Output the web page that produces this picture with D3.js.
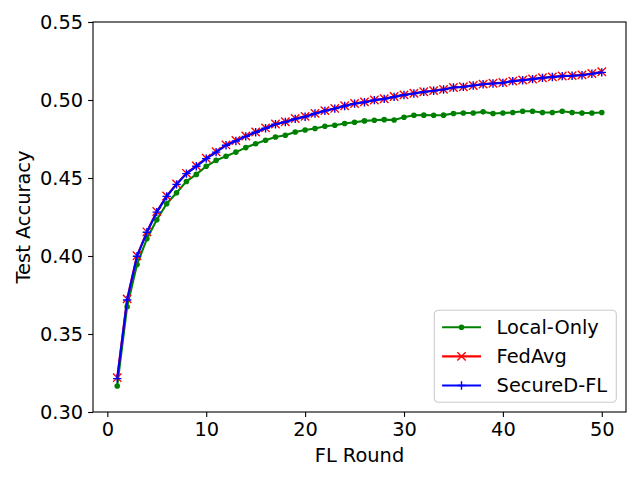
<!DOCTYPE html>
<html>
<head>
<meta charset="utf-8">
<script src="https://cdn.jsdelivr.net/npm/d3@7"></script>
<style>
  body { margin: 0; background: #fff; }
  svg text { font-family: "DejaVu Sans", sans-serif; }
</style>
</head>
<body>
<div id="chart"></div>
<script>
// FL rounds 1..50
const rounds = d3.range(1, 51);

// values
const localOnly = [
    0.3167, 0.3675, 0.3945, 0.4110, 0.4232, 0.4335, 0.4405, 0.4478, 0.4523, 0.4575,
    0.4613, 0.4639, 0.4666, 0.4695, 0.4720, 0.4742, 0.4763, 0.4774, 0.4795, 0.4808,
    0.4817, 0.4832, 0.4838, 0.4849, 0.4857, 0.4866, 0.4870, 0.4874, 0.4872, 0.4889,
    0.4902, 0.4903, 0.4902, 0.4903, 0.4913, 0.4917, 0.4917, 0.4924, 0.4913, 0.4917,
    0.4920, 0.4928, 0.4928, 0.4920, 0.4920, 0.4928, 0.4920, 0.4917, 0.4917, 0.4920
];
const fedAvg = [
    0.3220, 0.3725, 0.4002, 0.4155, 0.4285, 0.4385, 0.4462, 0.4530, 0.4578, 0.4627,
    0.4668, 0.4712, 0.4740, 0.4769, 0.4795, 0.4821, 0.4846, 0.4861, 0.4881, 0.4895,
    0.4914, 0.4932, 0.4946, 0.4963, 0.4978, 0.4988, 0.5000, 0.5008, 0.5022, 0.5033,
    0.5043, 0.5053, 0.5060, 0.5068, 0.5080, 0.5085, 0.5093, 0.5102, 0.5107, 0.5112,
    0.5121, 0.5128, 0.5135, 0.5143, 0.5148, 0.5154, 0.5156, 0.5161, 0.5170, 0.5181
];
const securedFL = [
    0.3214, 0.3718, 0.3998, 0.4152, 0.4281, 0.4382, 0.4459, 0.4528, 0.4575, 0.4624,
    0.4666, 0.4710, 0.4737, 0.4767, 0.4793, 0.4819, 0.4845, 0.4859, 0.4879, 0.4893,
    0.4913, 0.4930, 0.4945, 0.4962, 0.4977, 0.4986, 0.4999, 0.5007, 0.5020, 0.5032,
    0.5042, 0.5052, 0.5059, 0.5067, 0.5080, 0.5084, 0.5093, 0.5101, 0.5106, 0.5110,
    0.5121, 0.5127, 0.5134, 0.5142, 0.5147, 0.5153, 0.5155, 0.5159, 0.5168, 0.5177
];

const xTicks = [0, 10, 20, 30, 40, 50];
const yTicks = [0.30, 0.35, 0.40, 0.45, 0.50, 0.55];

const series = [
    { name: "Local-Only", values: localOnly, color: "green", marker: "dot" },
    { name: "FedAvg", values: fedAvg, color: "red", marker: "x" },
    { name: "SecureD-FL", values: securedFL, color: "blue", marker: "plus" }
];

// svg setup
var w = 640, h = 480;
var margin = { top: 22, right: 14, bottom: 68, left: 93 },
    width = w - margin.left - margin.right,
    height = h - margin.top - margin.bottom;

var svg = d3.select("#chart")
    .append("svg")
    .attr("width", w)
    .attr("height", h)
    .append("g")
    .attr("transform", `translate(${margin.left}, ${margin.top})`);

// scales, with matplotlib's 5% margin on x
var x = d3.scaleLinear()
    .domain([1 - 49 * 0.05, 50 + 49 * 0.05])
    .range([0, width]);

var y = d3.scaleLinear()
    .domain([0.30, 0.55])
    .range([height, 0]);

var fontSize = 19.4;

// axes
var xAxis = svg.append("g")
    .attr("transform", `translate(0, ${height})`)
    .call(d3.axisBottom(x).tickValues(xTicks).tickSize(4.9).tickPadding(4.9).tickFormat(d3.format("d")));

var yAxis = svg.append("g")
    .call(d3.axisLeft(y).tickValues(yTicks).tickSize(4.9).tickPadding(4.9).tickFormat(d3.format(".2f")));

[xAxis, yAxis].forEach(a => {
    a.select(".domain").remove();
    a.selectAll(".tick line").attr("stroke", "#000").attr("stroke-width", 1.1);
    a.selectAll("text").style("font-size", fontSize + "px").attr("fill", "#000");
});

// lines
var line = d3.line()
    .x((d, i) => x(rounds[i]))
    .y(d => y(d));

function drawMarker(g, type, color, cx, cy) {
    if (type === "dot") {
        g.append("circle").attr("cx", cx).attr("cy", cy).attr("r", 2.8).attr("fill", color);
    } else if (type === "x") {
        var s = 4.2;
        g.append("path")
            .attr("d", `M${cx - s},${cy - s}L${cx + s},${cy + s}M${cx - s},${cy + s}L${cx + s},${cy - s}`)
            .attr("stroke", color).attr("stroke-width", 1.4).attr("fill", "none");
    } else {
        var s = 4.2;
        g.append("path")
            .attr("d", `M${cx - s},${cy}L${cx + s},${cy}M${cx},${cy - s}L${cx},${cy + s}`)
            .attr("stroke", color).attr("stroke-width", 1.4).attr("fill", "none");
    }
}

series.forEach(s => {
    var g = svg.append("g");
    g.append("path")
        .datum(s.values)
        .attr("fill", "none")
        .attr("stroke", s.color)
        .attr("stroke-width", 2.1)
        .attr("stroke-linejoin", "round")
        .attr("d", line);
    s.values.forEach((v, i) => drawMarker(g, s.marker, s.color, x(rounds[i]), y(v)));
});

// frame
svg.append("rect")
    .attr("width", width)
    .attr("height", height)
    .attr("fill", "none")
    .attr("stroke", "#000")
    .attr("stroke-width", 1.1);

// axis labels
svg.append("text")
    .attr("x", width / 2)
    .attr("y", height + 50)
    .attr("text-anchor", "middle")
    .style("font-size", fontSize + "px")
    .text("FL Round");

svg.append("text")
    .attr("transform", `translate(${-63}, ${height / 2}) rotate(-90)`)
    .attr("text-anchor", "middle")
    .style("font-size", fontSize + "px")
    .text("Test Accuracy");

// legend, lower right
var legW = 182, legH = 92;
var legend = svg.append("g")
    .attr("transform", `translate(${width - 9.7 - legW}, ${height - 9.7 - legH})`);

legend.append("rect")
    .attr("width", legW)
    .attr("height", legH)
    .attr("rx", 4)
    .attr("fill", "#fff")
    .attr("fill-opacity", 0.8)
    .attr("stroke", "#ccc")
    .attr("stroke-width", 1.1);

series.forEach((s, i) => {
    var cy = 17 + i * 29.1;
    var g = legend.append("g");
    g.append("line")
        .attr("x1", 7.8).attr("x2", 46.7)
        .attr("y1", cy).attr("y2", cy)
        .attr("stroke", s.color).attr("stroke-width", 2.1);
    drawMarker(g, s.marker, s.color, 27.2, cy);
    g.append("text")
        .attr("x", 62.3)
        .attr("y", cy)
        .attr("dy", "0.35em")
        .style("font-size", fontSize + "px")
        .text(s.name);
});
</script>
</body>
</html>
